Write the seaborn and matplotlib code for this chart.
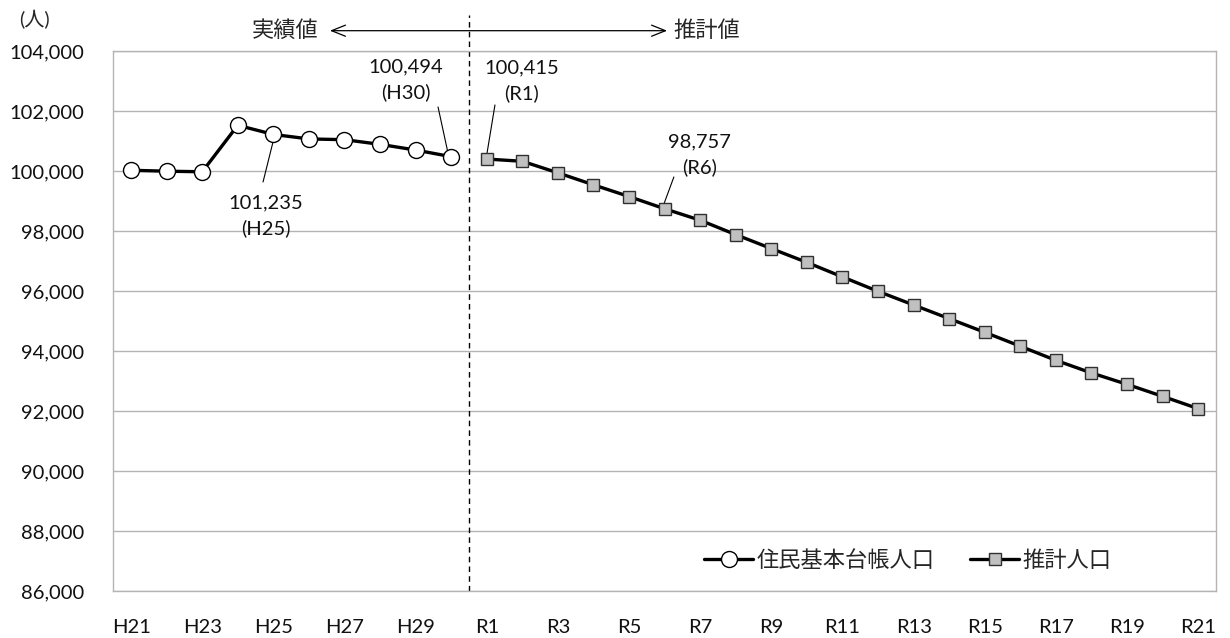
import numpy as np
import pandas as pd
import matplotlib
matplotlib.use("Agg")
import matplotlib.pyplot as plt
import matplotlib.ticker as mticker
import matplotlib.transforms as mtransforms
import seaborn as sns

# --- data -----------------------------------------------------------------
actual_years = ["H21", "H22", "H23", "H24", "H25", "H26", "H27", "H28", "H29", "H30"]
actual_pop = [100040, 100010, 99990, 101540, 101235, 101085, 101060, 100905, 100715, 100494]

proj_years = ["R1", "R2", "R3", "R4", "R5", "R6", "R7", "R8", "R9", "R10", "R11",
              "R12", "R13", "R14", "R15", "R16", "R17", "R18", "R19", "R20", "R21"]
proj_pop = [100415, 100340, 99955, 99555, 99165, 98757, 98375, 97895, 97430, 96970,
            96485, 96005, 95550, 95095, 94640, 94175, 93705, 93285, 92905, 92505, 92095]

all_years = actual_years + proj_years
series_names = ["住民基本台帳人口", "推計人口"]
y_ticks = list(range(86000, 104001, 2000))

# --- style ----------------------------------------------------------------
sns.set_style("white")
plt.rcParams["font.family"] = ["Lato", "Noto Sans CJK JP", "DejaVu Sans"]
grid_col = "#b4b4b4"
num_size = 14.5

fig = plt.figure(figsize=(12.3, 6.38), dpi=100)
ax = fig.add_axes([0.0921, 0.0729, 0.8965, 0.8464])

df_act = pd.DataFrame({"pos": np.arange(len(actual_years)), "pop": actual_pop})
df_proj = pd.DataFrame({"pos": np.arange(len(proj_years)) + len(actual_years), "pop": proj_pop})

sns.lineplot(data=df_act, x="pos", y="pop", ax=ax, color="black", lw=2.4,
             marker="o", markersize=11.5, markerfacecolor="white",
             markeredgecolor="black", markeredgewidth=1.0,
             label=series_names[0], zorder=4)
sns.lineplot(data=df_proj, x="pos", y="pop", ax=ax, color="black", lw=2.4,
             marker="s", markersize=8.5, markerfacecolor="#c0c0c0",
             markeredgecolor="#303030", markeredgewidth=1.0,
             label=series_names[1], zorder=4)

# axes, ticks, grid
ax.set_xlim(-0.5, len(all_years) - 0.5)
ax.set_ylim(y_ticks[0], y_ticks[-1])
ax.set_yticks(y_ticks)
ax.yaxis.set_major_formatter(mticker.StrMethodFormatter("{x:,.0f}"))
ax.set_xticks(np.arange(-0.5, len(all_years), 1.0))
ax.set_xticklabels([])
label_pos = np.arange(0, len(all_years), 2)
ax.set_xticks(label_pos, [all_years[i] for i in label_pos], minor=True)
ax.tick_params(axis="x", which="major", length=7, width=1, color=grid_col, direction="out")
ax.tick_params(axis="x", which="minor", length=0, pad=20, labelsize=num_size, labelcolor="#111111")
ax.tick_params(axis="y", length=7, width=1, color=grid_col, direction="out", pad=14,
               labelsize=num_size, labelcolor="#111111")
ax.set_xlabel("")
ax.set_ylabel("")
ax.grid(axis="y", color=grid_col, lw=1.0)
for side in ["left", "bottom", "right", "top"]:
    ax.spines[side].set_visible(True)
    ax.spines[side].set_color(grid_col)
    ax.spines[side].set_linewidth(1.0)

# boundary between actual and projected values
blend = mtransforms.blended_transform_factory(ax.transData, ax.transAxes)
split = len(actual_years) - 0.5
ax.plot([split, split], [0, 1.068], transform=blend, clip_on=False,
        color="black", lw=1.0, ls=(0, (4, 3)), zorder=2)

# header arrow with labels
ax.annotate("", xy=(5.59, 1.0385), xytext=(15.07, 1.0385), xycoords=blend, textcoords=blend,
            arrowprops=dict(arrowstyle="<->,head_length=1.0,head_width=0.4",
                            lw=0.9, color="black", shrinkA=0, shrinkB=0),
            annotation_clip=False)
ax.text(4.32, 1.0385, "実績値", transform=blend, ha="center", va="center", fontsize=16)
ax.text(16.19, 1.0385, "推計値", transform=blend, ha="center", va="center", fontsize=16)
fig.text(34 / 1230, 1 - 20 / 638, "(人)", ha="center", va="center", fontsize=num_size)

# value callouts
callouts = [
    (4, actual_pop[4], actual_years[4], (3.79, 98517), (3.71, 99650), (3.99, 100983)),
    (9, actual_pop[9], actual_years[9], (7.73, 103050), (8.63, 102150), (8.91, 100617)),
    (10, proj_pop[0], proj_years[0], (10.99, 103017), (10.23, 102217), (10.0, 100560)),
    (15, proj_pop[5], proj_years[5], (15.99, 100550), (15.26, 99817), (14.98, 98917)),
]
for _, val, yr, txt_xy, start, end in callouts:
    ax.text(txt_xy[0], txt_xy[1], f"{val:,}\n({yr})", ha="center", va="center",
            fontsize=num_size, linespacing=1.5, color="#111111", zorder=5)
    ax.annotate("", xy=end, xytext=start,
                arrowprops=dict(arrowstyle="-", lw=0.8, color="black", shrinkA=0, shrinkB=0))

# legend
leg = ax.legend(loc="center", bbox_to_anchor=(0.7207, 0.058), ncol=2, frameon=False,
                fontsize=16, handlelength=2.2, handletextpad=0.15, columnspacing=1.6)

fig.savefig("out.png", dpi=100)
